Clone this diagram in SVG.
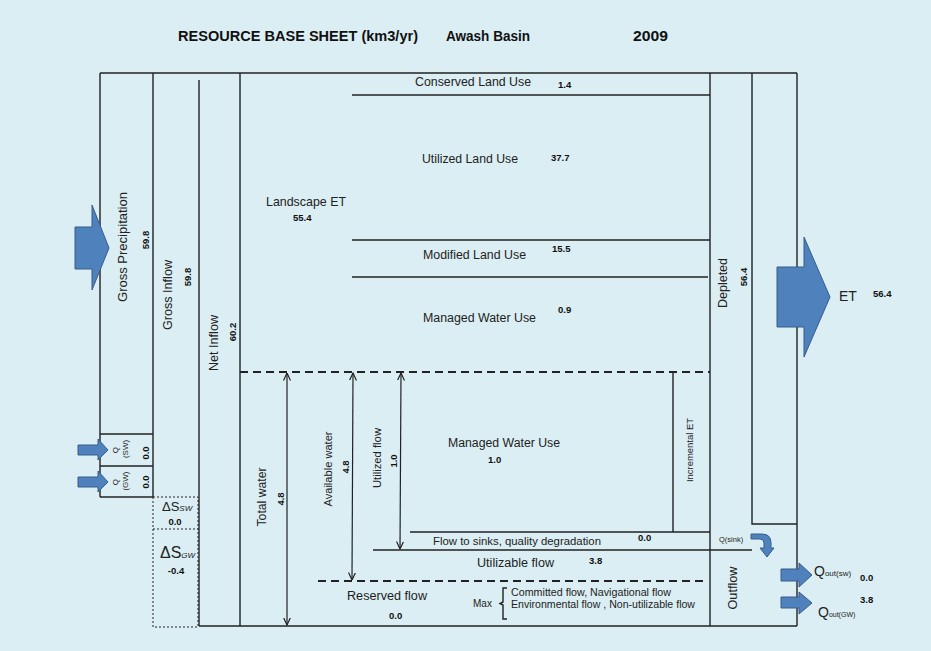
<svg xmlns="http://www.w3.org/2000/svg" width="931" height="651" viewBox="0 0 931 651">
<defs>
<style>
.ln{stroke:#222;stroke-width:1.4;fill:none}
.dash{stroke:#222;stroke-width:1.8;fill:none;stroke-dasharray:8,5}
.dot{stroke:#222;stroke-width:1;fill:none;stroke-dasharray:2,2}
.dim{stroke:#222;stroke-width:1.2;fill:none;marker-start:url(#ah);marker-end:url(#ah)}
.t{font-family:"Liberation Sans",Arial,sans-serif;fill:#222}
.n{font-family:"Liberation Sans",Arial,sans-serif;font-weight:bold;fill:#111;font-size:9.5px}
.blk{fill:#4F81BD;stroke:#385D8A;stroke-width:1}
.title{font-family:"Liberation Sans",Arial,sans-serif;font-weight:bold;font-size:14px;fill:#111}
</style>
<marker id="ah" viewBox="0 0 8 8" refX="7.5" refY="4" markerWidth="8" markerHeight="8" markerUnits="userSpaceOnUse" orient="auto-start-reverse">
<path d="M0,0.5 L7.5,4 L0,7.5" fill="none" stroke="#222" stroke-width="1.2"/>
</marker>
</defs>
<rect x="0" y="0" width="931" height="651" fill="#DBEEF3"/>

<g id="title">
<text class="title" x="178" y="41" textLength="240" lengthAdjust="spacingAndGlyphs">RESOURCE BASE SHEET (km3/yr)</text>
<text class="title" x="446" y="41" textLength="84" lengthAdjust="spacingAndGlyphs">Awash Basin</text>
<text class="title" x="633" y="41" textLength="35" lengthAdjust="spacingAndGlyphs">2009</text>
</g>

<g id="frame">
<path class="ln" d="M100,73 H797 M100,73 V497 M153,73 V497 M199,80 V626 M240,73 V626 M710,73 V626 M752,73 V524 H797 M797,73 V626 M199,626 H797"/>
<path class="ln" d="M100,434 H153 M100,466 H153 M100,497 H153"/>
<path class="ln" d="M352,95 H710 M352,240 H710 M352,277 H708"/>
<path class="ln" d="M673,372 V532 M410,532 H710 M373,550 H752"/>
<path class="dash" d="M240,372 H710 M318,581 H705"/>
</g>

<g id="storage">
<rect class="dot" x="153" y="497" width="45" height="130"/>
<path class="dot" d="M153,529 H198"/>
<text class="t" x="162" y="511" font-size="13">ΔS<tspan font-size="8" font-style="italic">SW</tspan></text>
<text class="n" x="175" y="525" text-anchor="middle" font-size="10">0.0</text>
<text class="t" x="160" y="558" font-size="16">ΔS<tspan font-size="8" font-style="italic">GW</tspan></text>
<text class="n" x="176" y="574" text-anchor="middle" font-size="10">-0.4</text>
</g>

<g id="gross-precipitation">
<path class="blk" d="M75,227 H92 V205 L109,248 L92,290 V269 H75 Z"/>
<text class="t" x="122" y="247" font-size="13" text-anchor="middle" dominant-baseline="central" transform="rotate(-90 122 247)" textLength="110" lengthAdjust="spacingAndGlyphs">Gross Precipitation</text>
<text class="n" x="145" y="240" text-anchor="middle" dominant-baseline="central" transform="rotate(-90 145 240)">59.8</text>
</g>

<g id="q-sw">
<path class="blk" d="M78,445 H98 V439 L108,450 L98,460 V455 H78 Z"/>
<text class="t" x="115" y="450" font-size="8" text-anchor="middle" dominant-baseline="central" transform="rotate(-90 115 450)">Q</text>
<text class="t" x="125" y="449" font-size="8" text-anchor="middle" dominant-baseline="central" transform="rotate(-90 125 449)">(SW)</text>
<text class="n" x="145" y="453" text-anchor="middle" dominant-baseline="central" transform="rotate(-90 145 453)">0.0</text>
</g>

<g id="q-gw">
<path class="blk" d="M78,477 H98 V471 L108,482 L98,492 V487 H78 Z"/>
<text class="t" x="115" y="482" font-size="8" text-anchor="middle" dominant-baseline="central" transform="rotate(-90 115 482)">Q</text>
<text class="t" x="125" y="481" font-size="8" text-anchor="middle" dominant-baseline="central" transform="rotate(-90 125 481)">(GW)</text>
<text class="n" x="145" y="482" text-anchor="middle" dominant-baseline="central" transform="rotate(-90 145 482)">0.0</text>
</g>

<g id="gross-inflow">
<text class="t" x="167" y="295" font-size="13" text-anchor="middle" dominant-baseline="central" transform="rotate(-90 167 295)" textLength="70" lengthAdjust="spacingAndGlyphs">Gross Inflow</text>
<text class="n" x="187" y="277" text-anchor="middle" dominant-baseline="central" transform="rotate(-90 187 277)">59.8</text>
</g>

<g id="net-inflow">
<text class="t" x="213" y="343" font-size="13" text-anchor="middle" dominant-baseline="central" transform="rotate(-90 213 343)" textLength="56" lengthAdjust="spacingAndGlyphs">Net Inflow</text>
<text class="n" x="232" y="332" text-anchor="middle" dominant-baseline="central" transform="rotate(-90 232 332)">60.2</text>
</g>

<g id="landscape-et">
<text class="t" x="266" y="206" font-size="13" textLength="80" lengthAdjust="spacingAndGlyphs">Landscape ET</text>
<text class="n" x="293" y="221">55.4</text>
</g>

<g id="conserved">
<text class="t" x="415" y="86" font-size="12" textLength="116" lengthAdjust="spacingAndGlyphs">Conserved Land Use</text>
<text class="n" x="558" y="88">1.4</text>
</g>
<g id="utilized">
<text class="t" x="422" y="163" font-size="12" textLength="96" lengthAdjust="spacingAndGlyphs">Utilized Land Use</text>
<text class="n" x="551" y="161">37.7</text>
</g>
<g id="modified">
<text class="t" x="423" y="259" font-size="12" textLength="103" lengthAdjust="spacingAndGlyphs">Modified Land Use</text>
<text class="n" x="552" y="252">15.5</text>
</g>
<g id="managed-water-use">
<text class="t" x="423" y="322" font-size="12" textLength="113" lengthAdjust="spacingAndGlyphs">Managed Water Use</text>
<text class="n" x="558" y="313">0.9</text>
</g>

<g id="depleted">
<text class="t" x="723" y="283" font-size="12" text-anchor="middle" dominant-baseline="central" transform="rotate(-90 723 283)" textLength="50" lengthAdjust="spacingAndGlyphs">Depleted</text>
<text class="n" x="743" y="277" text-anchor="middle" dominant-baseline="central" transform="rotate(-90 743 277)">56.4</text>
</g>

<g id="et">
<path class="blk" d="M777,267 H804 V237 L830,297 L804,357 V327 H777 Z"/>
<text class="t" x="839" y="301" font-size="14">ET</text>
<text class="n" x="873" y="297">56.4</text>
</g>

<g id="total-water">
<text class="t" x="262" y="497" font-size="12" text-anchor="middle" dominant-baseline="central" transform="rotate(-90 262 497)" textLength="59" lengthAdjust="spacingAndGlyphs">Total water</text>
<text class="n" x="280" y="499" text-anchor="middle" dominant-baseline="central" transform="rotate(-90 280 499)">4.8</text>
</g>
<g id="available-water">
<text class="t" x="328" y="469" font-size="11" text-anchor="middle" dominant-baseline="central" transform="rotate(-90 328 469)" textLength="75" lengthAdjust="spacingAndGlyphs">Available  water</text>
<text class="n" x="345" y="467" text-anchor="middle" dominant-baseline="central" transform="rotate(-90 345 467)">4.8</text>
</g>
<g id="utilized-flow">
<text class="t" x="377" y="458" font-size="11" text-anchor="middle" dominant-baseline="central" transform="rotate(-90 377 458)" textLength="60" lengthAdjust="spacingAndGlyphs">Utilized  flow</text>
<text class="n" x="393" y="461" text-anchor="middle" dominant-baseline="central" transform="rotate(-90 393 461)">1.0</text>
</g>

<g id="managed-water-use-2">
<text class="t" x="448" y="447" font-size="12" textLength="112" lengthAdjust="spacingAndGlyphs">Managed Water Use</text>
<text class="n" x="488" y="463">1.0</text>
</g>
<g id="incremental-et">
<text class="t" x="690" y="450" font-size="9" text-anchor="middle" dominant-baseline="central" transform="rotate(-90 690 450)" textLength="64" lengthAdjust="spacingAndGlyphs">Incremental ET</text>
</g>

<g id="flow-to-sinks">
<text class="t" x="433" y="545" font-size="10" textLength="168" lengthAdjust="spacingAndGlyphs">Flow to sinks, quality degradation</text>
<text class="n" x="638" y="541">0.0</text>
</g>
<g id="utilizable-flow">
<text class="t" x="477" y="567" font-size="12" textLength="77" lengthAdjust="spacingAndGlyphs">Utilizable flow</text>
<text class="n" x="589" y="564">3.8</text>
</g>
<g id="reserved-flow">
<text class="t" x="347" y="600" font-size="12" textLength="80" lengthAdjust="spacingAndGlyphs">Reserved flow</text>
<text class="n" x="389" y="619">0.0</text>
<text class="t" x="473" y="607" font-size="10">Max</text>
<path class="ln" stroke-width="1.2" d="M507,588 H503 V602 L500,603.5 L503,605 V619 H507"/>
<text class="t" x="511" y="596" font-size="10" textLength="160" lengthAdjust="spacingAndGlyphs">Committed flow,  Navigational flow</text>
<text class="t" x="511" y="608" font-size="10" textLength="184" lengthAdjust="spacingAndGlyphs">Environmental  flow , Non-utilizable  flow</text>
</g>

<g id="outflow">
<text class="t" x="732" y="588" font-size="13" text-anchor="middle" dominant-baseline="central" transform="rotate(-90 732 588)" textLength="43" lengthAdjust="spacingAndGlyphs">Outflow</text>
</g>

<g id="q-sink">
<text class="t" x="719" y="542" font-size="7.5">Q(sink)</text>
<path class="blk" d="M751,534 H762 Q771,534 771,543 V548 H774 L767,557 L760,548 H764 V543 Q764,539 760,539 H751 Z"/>
</g>

<g id="q-out-sw">
<path class="blk" d="M781,569 H799 V563 L812,575 L799,587 V581 H781 Z"/>
<text class="t" x="814" y="576" font-size="14">Q<tspan font-size="8">out(sw)</tspan></text>
<text class="n" x="860" y="581">0.0</text>
</g>
<g id="q-out-gw">
<path class="blk" d="M781,597 H799 V592 L812,603 L799,614 V608 H781 Z"/>
<text class="t" x="818" y="617" font-size="14">Q<tspan font-size="7">out(GW)</tspan></text>
<text class="n" x="860" y="603">3.8</text>
</g>

<g id="connectors">
<line class="dim" x1="287" y1="373" x2="287" y2="625"/>
<line class="dim" x1="353" y1="373" x2="352" y2="580"/>
<line class="dim" x1="401" y1="373" x2="400" y2="549"/>
</g>
</svg>
